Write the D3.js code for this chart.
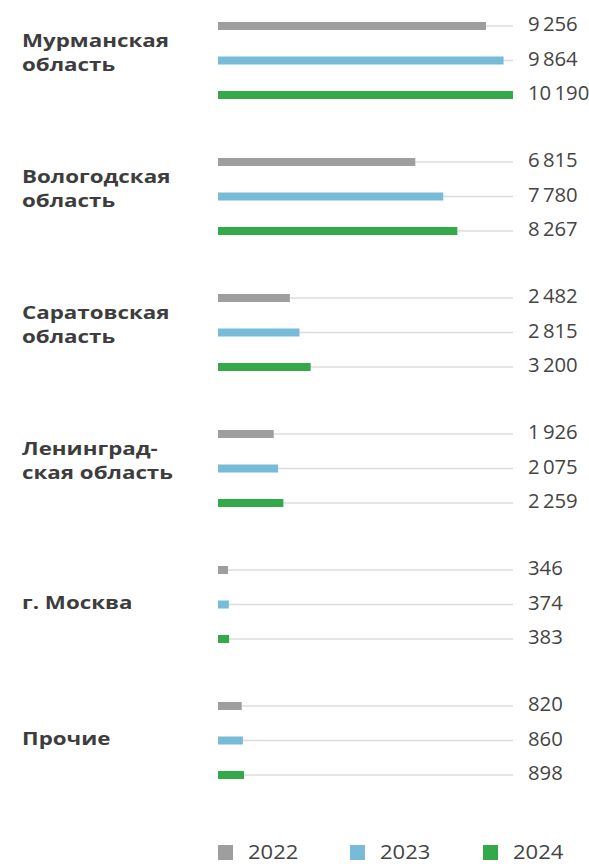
<!DOCTYPE html>
<html><head><meta charset="utf-8">
<script src="https://cdn.jsdelivr.net/npm/d3@7"></script>
<style>body{margin:0;background:#fff;}</style>
</head><body>
<script>
const categories = [["Мурманская","область"],["Вологодская","область"],["Саратовская","область"],["Ленинград-","ская область"],["г. Москва"],["Прочие"]];
const years = ["2022","2023","2024"];
const values2022 = [9256, 6815, 2482, 1926, 346, 820];
const values2023 = [9864, 7780, 2815, 2075, 374, 860];
const values2024 = [10190, 8267, 3200, 2259, 383, 898];
const colors = ["#9e9e9e", "#77bbd8", "#33a94a"];

const W = 589, H = 864;
const svg = d3.select("body").append("svg").attr("width", W).attr("height", H);
const series = [values2022, values2023, values2024];

const x = d3.scaleLinear().domain([0, d3.max(values2024)]).range([218, 513]);
const yGroup = d3.scaleBand().domain(d3.range(categories.length)).range([0, 816]);
const yInner = d3.scalePoint().domain(d3.range(3)).range([26, 95]);

const fmt = v => d3.format(",")(v).replace(/,/g, "\u2009");

const LABEL_FONT = "Open Sans, sans-serif";
const probe = svg.append("text").attr("font-family", LABEL_FONT).attr("font-weight", 700)
  .attr("font-size", 18.5).text("Мурманская");
const pw = probe.node().getComputedTextLength();
probe.remove();
const sx = 147 / pw;

categories.forEach((cat, gi) => {
  const g = svg.append("g").attr("transform", `translate(0,${yGroup(gi)})`);
  series.forEach((s, si) => {
    const cy = yInner(si);
    g.append("line").attr("x1", x(0)).attr("x2", x.range()[1]).attr("y1", cy).attr("y2", cy)
      .attr("stroke", "#dcdcdc").attr("stroke-width", 1.5);
    g.append("rect").attr("x", x(0)).attr("y", cy - 4).attr("width", x(s[gi]) - x(0)).attr("height", 8).attr("fill", colors[si]);
    g.append("text").attr("transform", `translate(528,${cy + 5}) scale(1.04,1)`)
      .attr("font-family", "Open Sans, sans-serif").attr("font-size", 19.5)
      .attr("fill", "#444").text(fmt(s[gi]));
  });
  const mid = yInner(1);
  const lh = 24;
  const t = g.append("text").attr("transform", `translate(22,0) scale(${sx},1)`)
    .attr("font-family", LABEL_FONT).attr("font-weight", 700)
    .attr("font-size", 18.5).attr("fill", "#3d3d3d");
  const n = cat.length;
  cat.forEach((line, li) => {
    const yy = n > 1 ? mid - 1 + (li - (n - 1) / 2) * lh : mid + 5;
    t.append("tspan").attr("x", 0).attr("y", yy).text(line);
  });
});

const legX = [218, 350, 483];
years.forEach((yr, i) => {
  svg.append("rect").attr("x", legX[i]).attr("y", 845).attr("width", 15).attr("height", 15).attr("fill", colors[i]);
  svg.append("text").attr("transform", `translate(${legX[i] + 30},858.5) scale(1.1,1)`)
    .attr("font-family", "Open Sans, sans-serif")
    .attr("font-size", 20).attr("fill", "#444").text(yr);
});
</script>
</body></html>
